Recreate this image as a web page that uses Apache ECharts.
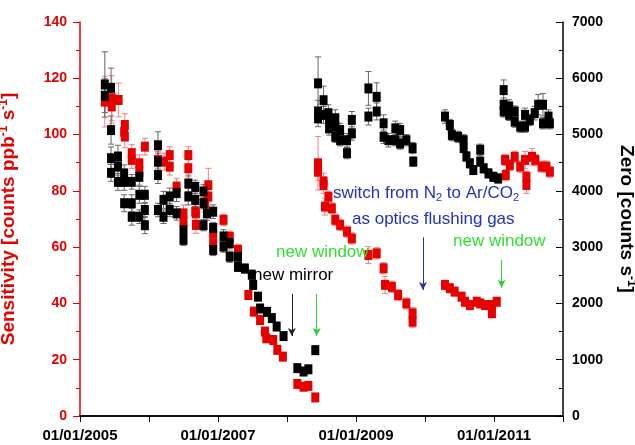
<!DOCTYPE html>
<html>
<head>
<meta charset="utf-8">
<script src="https://cdn.jsdelivr.net/npm/echarts@6.0.0/dist/echarts.min.js"></script>
<style>
  html, body { margin: 0; padding: 0; background: #fff; }
  #chart { width: 635px; height: 445px; }
</style>
</head>
<body>
<div id="chart"></div>
<script>
// [decimal year, zero counts s-1, error]
const zeroData = [
  [2005.36, 5890, 580], [2005.36, 5690, 300], [2005.45, 5830, 350], [2005.45, 5080, 250], [2005.45, 4580, 200], [2005.45, 4320, 150],
  [2005.55, 4610, 200], [2005.55, 4430, 150], [2005.55, 4160, 150], [2005.64, 4310, 150], [2005.64, 4160, 150], [2005.64, 3780, 150],
  [2005.75, 4160, 130], [2005.75, 3780, 150], [2005.75, 3540, 150], [2005.86, 4250, 150], [2005.86, 3930, 150], [2005.86, 3540, 120],
  [2005.94, 3930, 150], [2005.94, 3660, 130], [2005.94, 3390, 150], [2006.13, 4810, 240], [2006.13, 4520, 150], [2006.13, 4280, 150],
  [2006.13, 3660, 120], [2006.21, 3840, 150], [2006.21, 3540, 120], [2006.30, 3900, 150], [2006.30, 3660, 120], [2006.40, 3960, 150],
  [2006.40, 3600, 120], [2006.50, 3300, 100], [2006.50, 3130, 100], [2006.57, 4130, 150], [2006.57, 3900, 150], [2006.67, 4070, 120],
  [2006.67, 3840, 120], [2006.79, 3990, 120], [2006.79, 3780, 100], [2006.84, 3600, 120], [2006.79, 3390, 100], [2006.93, 3630, 120],
  [2006.93, 3340, 100], [2006.93, 2950, 100], [2007.08, 3190, 120], [2007.08, 3010, 100], [2007.17, 3070, 100], [2007.17, 2830, 100],
  [2007.29, 2830, 100], [2007.29, 2650, 80], [2007.39, 2620, 80], [2007.49, 2510, 80], [2007.51, 2330, 80], [2007.58, 2120, 60],
  [2007.61, 1910, 60], [2007.71, 1850, 60], [2007.78, 1740, 60], [2007.85, 1590, 50], [2007.95, 1420, 50],
  [2008.15, 850, 50], [2008.24, 790, 50], [2008.31, 830, 50], [2008.41, 1170, 50],
  [2008.45, 5910, 470], [2008.45, 5410, 200], [2008.45, 5290, 150], [2008.53, 5610, 250], [2008.53, 5350, 150], [2008.60, 5380, 150],
  [2008.61, 5260, 150], [2008.61, 5110, 120], [2008.70, 5290, 150], [2008.70, 5140, 120], [2008.70, 4960, 100], [2008.77, 5080, 120],
  [2008.77, 4900, 100], [2008.87, 4900, 120], [2008.87, 4670, 100], [2008.94, 5260, 150], [2008.94, 5020, 120],
  [2009.18, 5820, 300], [2009.18, 5320, 150], [2009.30, 5670, 250], [2009.30, 5410, 150], [2009.40, 5200, 150], [2009.40, 4960, 120],
  [2009.47, 4900, 120], [2009.57, 5110, 130], [2009.57, 4900, 100], [2009.64, 5080, 120], [2009.64, 4840, 100], [2009.73, 4900, 100],
  [2009.82, 4760, 100], [2009.83, 4520, 80],
  [2010.29, 5320, 120], [2010.36, 5170, 100], [2010.39, 4990, 100], [2010.48, 4960, 100], [2010.56, 4900, 100], [2010.56, 4760, 80],
  [2010.60, 4610, 80], [2010.65, 4490, 80], [2010.70, 4370, 80], [2010.80, 4730, 100], [2010.80, 4520, 80], [2010.85, 4400, 80],
  [2010.92, 4310, 80], [2010.99, 4250, 80], [2011.06, 4220, 80],
  [2011.14, 5790, 180], [2011.14, 5530, 120], [2011.14, 5410, 100], [2011.22, 5500, 120], [2011.22, 5350, 100], [2011.30, 5410, 100],
  [2011.30, 5230, 100], [2011.38, 5140, 100], [2011.45, 5350, 120], [2011.45, 5140, 100], [2011.52, 5260, 100], [2011.59, 5380, 120],
  [2011.64, 5530, 180], [2011.71, 5530, 200], [2011.71, 5200, 100], [2011.79, 5320, 120], [2011.81, 5200, 100]
];

// [decimal year, sensitivity counts ppb-1 s-1, error]
const sensData = [
  [2005.36, 111.7, 9], [2005.46, 112.9, 8], [2005.46, 110.0, 6], [2005.56, 112.3, 6], [2005.65, 103.4, 4], [2005.65, 99.3, 4],
  [2005.64, 101.0, 3], [2005.75, 93.4, 3], [2005.75, 91.0, 3], [2005.86, 89.8, 3], [2005.86, 86.8, 3], [2005.94, 95.7, 3],
  [2006.13, 91.0, 3], [2006.22, 90.4, 3], [2006.30, 92.7, 3], [2006.30, 88.6, 3], [2006.40, 81.5, 3], [2006.50, 72.0, 3],
  [2006.50, 69.0, 3], [2006.57, 92.7, 3], [2006.57, 88.0, 3], [2006.68, 72.0, 3], [2006.68, 67.9, 3], [2006.67, 72.6, 3],
  [2006.86, 82.0, 6], [2006.86, 78.0, 3], [2006.81, 75.6, 3], [2006.93, 64.9, 3], [2006.93, 61.4, 3],
  [2007.08, 69.7, 2], [2007.17, 63.7, 2], [2007.29, 59.0, 2], [2007.44, 43.0, 1.5], [2007.52, 37.1, 1.5], [2007.61, 34.1, 1.5],
  [2007.68, 30.0, 1.5], [2007.70, 27.6, 1.5], [2007.80, 27.0, 1.5], [2007.86, 23.5, 1], [2007.94, 21.1, 1],
  [2008.15, 11.4, 1], [2008.24, 10.4, 1], [2008.31, 10.7, 1], [2008.41, 6.6, 1],
  [2008.45, 89.8, 9.5], [2008.45, 86.8, 3], [2008.53, 83.3, 3], [2008.53, 82.1, 3], [2008.60, 77.9, 2], [2008.55, 74.4, 3],
  [2008.65, 73.8, 2], [2008.70, 69.7, 2], [2008.77, 67.9, 2], [2008.87, 65.5, 2], [2008.94, 63.1, 2],
  [2009.18, 57.2, 3], [2009.30, 57.8, 2], [2009.40, 52.5, 2], [2009.42, 46.6, 3], [2009.52, 45.9, 2], [2009.61, 43.0, 2],
  [2009.73, 40.0, 2], [2009.82, 36.5, 2], [2009.82, 33.5, 2],
  [2010.29, 46.6, 1.5], [2010.36, 45.4, 1.5], [2010.43, 44.2, 1.5], [2010.53, 42.4, 1.5], [2010.58, 40.6, 1.5], [2010.65, 39.4, 1.5],
  [2010.75, 40.6, 1.5], [2010.80, 40.0, 1.5], [2010.87, 39.4, 1.5], [2010.97, 39.4, 1.5], [2010.97, 36.5, 1.5], [2011.04, 40.6, 1.5],
  [2011.16, 91.0, 2], [2011.17, 85.6, 2], [2011.23, 89.2, 2], [2011.30, 92.1, 2], [2011.38, 88.6, 2], [2011.45, 91.0, 3],
  [2011.47, 85.0, 2], [2011.47, 82.1, 3], [2011.55, 92.1, 3], [2011.60, 91.0, 2], [2011.69, 88.6, 2], [2011.76, 88.6, 2],
  [2011.81, 86.8, 2]
];

const xLabelYears = [2005, 2007, 2009, 2011];

// event arrows: x in years, from/to in sensitivity units
const eventArrows = [
  { year: 2008.07, from: 43.4, to: 28.4, color: '#222222' },
  { year: 2008.43, from: 43.4, to: 28.4, color: '#33cc33' },
  { year: 2009.97, from: 63.5, to: 44.8, color: '#2233aa' },
  { year: 2011.11, from: 55.4, to: 45.6, color: '#33cc33' }
];

const FONT = '"Liberation Sans", Arial, sans-serif';
const RED = '#e60000';

const chart = echarts.init(document.getElementById('chart'), null, { renderer: 'canvas' });

function errorBars(color) {
  return function (params, api) {
    const x = api.value(0), y = api.value(1), e = api.value(2);
    const top = api.coord([x, y + e]);
    const bot = api.coord([x, y - e]);
    const hw = 3;
    const style = { stroke: color, lineWidth: 1 };
    return {
      type: 'group',
      children: [
        { type: 'line', shape: { x1: top[0], y1: top[1], x2: bot[0], y2: bot[1] }, style },
        { type: 'line', shape: { x1: top[0] - hw, y1: top[1], x2: top[0] + hw, y2: top[1] }, style },
        { type: 'line', shape: { x1: bot[0] - hw, y1: bot[1], x2: bot[0] + hw, y2: bot[1] }, style }
      ]
    };
  };
}

const arrowLines = eventArrows.map(a => [
  { coord: [a.year, a.from], lineStyle: { color: a.color } },
  { coord: [a.year, a.to] }
]);

const option = {
  animation: false,
  grid: { left: 80, right: 72, top: 22, bottom: 29, containLabel: false, outerBoundsMode: 'none' },
  xAxis: [{
    type: 'value', min: 2005, max: 2012, interval: 1,
    axisLine: { lineStyle: { color: '#000', width: 1.5 } },
    axisTick: { show: true, length: 6, lineStyle: { color: '#000' } },
    axisLabel: {
      margin: 12, color: '#000', fontWeight: 'bold', fontSize: 15, fontFamily: FONT,
      formatter: v => xLabelYears.includes(Math.round(v)) ? '01/01/' + Math.round(v) : ''
    },
    splitLine: { show: false }
  }, {
    type: 'value', position: 'top', min: 2005, max: 2012, interval: 1,
    axisLine: { lineStyle: { color: '#000', width: 1.5 } },
    axisTick: { show: true, inside: true, length: 6, lineStyle: { color: '#000' } },
    axisLabel: { show: false },
    splitLine: { show: false }
  }],
  yAxis: [{
    type: 'value', min: 0, max: 140, interval: 20,
    name: 'Sensitivity [counts ppb{sup|-1} s{sup|-1}]',
    nameLocation: 'middle', nameGap: 60, nameRotate: 90,
    nameTextStyle: {
      color: RED, fontWeight: 'bold', fontSize: 19, fontFamily: FONT, lineHeight: 22,
      rich: { sup: { fontSize: 12, fontWeight: 'bold', color: RED, fontFamily: FONT, verticalAlign: 'top', lineHeight: 22 } }
    },
    axisLine: { show: true, lineStyle: { color: RED, width: 1.5 } },
    axisTick: { show: true, length: 7, lineStyle: { color: RED } },
    minorTick: { show: true, splitNumber: 2, length: 4, lineStyle: { color: RED } },
    axisLabel: { margin: 13, color: RED, fontWeight: 'bold', fontSize: 14, fontFamily: FONT },
    splitLine: { show: false }
  }, {
    type: 'value', min: 0, max: 7000, interval: 1000, position: 'right',
    name: 'Zero [counts s{sup|-1}]',
    nameLocation: 'middle', nameGap: 52, nameRotate: -90,
    nameTextStyle: {
      color: '#000', fontWeight: 'bold', fontSize: 19, fontFamily: FONT, lineHeight: 22,
      rich: { sup: { fontSize: 12, fontWeight: 'bold', color: '#000', fontFamily: FONT, verticalAlign: 'top', lineHeight: 22 } }
    },
    axisLine: { show: true, lineStyle: { color: '#000', width: 1.5 } },
    axisTick: { show: true, inside: true, length: 7, lineStyle: { color: '#000' } },
    minorTick: { show: true, splitNumber: 2, length: 4, lineStyle: { color: '#000' } },
    axisLabel: { margin: 9, color: '#000', fontWeight: 'bold', fontSize: 14, fontFamily: FONT, formatter: v => String(v) },
    splitLine: { show: false }
  }],
  series: [{
    type: 'custom', name: 'sens err', yAxisIndex: 0, z: 2,
    renderItem: errorBars('#f08080'),
    encode: { x: 0, y: 1 },
    data: sensData
  }, {
    type: 'custom', name: 'zero err', yAxisIndex: 1, z: 2,
    renderItem: errorBars('#666666'),
    encode: { x: 0, y: 1 },
    data: zeroData
  }, {
    type: 'scatter', name: 'Sensitivity', yAxisIndex: 0, z: 3,
    symbol: 'rect', symbolSize: [8, 10],
    itemStyle: { color: RED, opacity: 1 },
    data: sensData.map(d => [d[0], d[1]]),
    markLine: {
      silent: true, symbol: ['none', 'arrow'], symbolSize: [6, 8],
      label: { show: false },
      lineStyle: { type: 'solid', width: 1 },
      data: arrowLines
    }
  }, {
    type: 'scatter', name: 'Zero', yAxisIndex: 1, z: 4,
    symbol: 'rect', symbolSize: [8, 10],
    itemStyle: { color: '#000', opacity: 1 },
    data: zeroData.map(d => [d[0], d[1]])
  }],
  graphic: [{
    type: 'text', left: 253, top: 267, z: 10,
    style: { text: 'new mirror', fill: '#000', fontSize: 17, fontFamily: FONT }
  }, {
    type: 'text', left: 276, top: 244, z: 10,
    style: { text: 'new window', fill: '#33dd33', fontSize: 17, fontFamily: FONT }
  }, {
    type: 'text', left: 453, top: 233, z: 10,
    style: { text: 'new window', fill: '#33dd33', fontSize: 17, fontFamily: FONT }
  }, {
    type: 'text', left: 333, top: 183, z: 10,
    style: {
      text: 'switch from N{sub|2} to Ar/CO{sub|2}', fill: '#2233bb', fontSize: 17, fontFamily: FONT, lineHeight: 20,
      rich: { sub: { fontSize: 11, fill: '#2233bb', fontFamily: FONT, verticalAlign: 'bottom', lineHeight: 14, padding: [8, 0, 0, 0] } }
    }
  }, {
    type: 'text', left: 352, top: 211, z: 10,
    style: { text: 'as optics flushing gas', fill: '#2233bb', fontSize: 17, fontFamily: FONT }
  }]
};

chart.setOption(option);
</script>
</body>
</html>
